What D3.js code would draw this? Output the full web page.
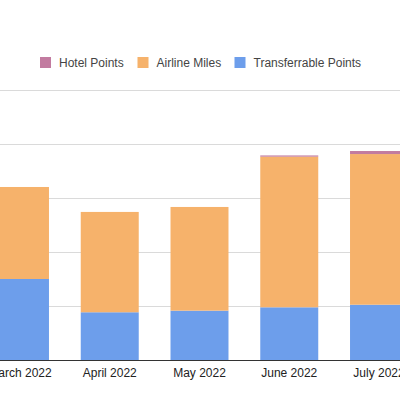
<!DOCTYPE html>
<html lang="en">
<head>
    <meta charset="UTF-8">
    <title>Points balance by month</title>
    <script src="https://d3js.org/d3.v7.min.js"></script>
    <style>
        body { margin: 0; padding: 0; background: #fff; }
        svg { display: block; font-family: Arial, "Liberation Sans", sans-serif; }
        .grid line { stroke: #dadada; stroke-width: 1px; }
        .base { stroke: #333; stroke-width: 1px; }
        .xlabel { font-size: 12px; fill: #222; }
        .legend text { font-size: 12px; fill: #444; }
    </style>
</head>
<body>
    <svg id="chart" width="400" height="400"></svg>

    <script>
        // data (y axis labels are cropped off, units are a guess)
        const months = ["March 2022", "April 2022", "May 2022", "June 2022", "July 2022"];
        const transferrable = [75000, 44200, 45700, 48800, 51200];
        const airline = [85200, 92900, 96000, 139500, 139500];
        const hotel = [0, 0, 0, 1100, 2800];
        const gridTicks = [0, 50000, 100000, 150000, 200000, 250000];

        const seriesNames = ["Hotel Points", "Airline Miles", "Transferrable Points"];
        const colors = {
            "Transferrable Points": "#6d9eeb",
            "Airline Miles": "#f6b26b",
            "Hotel Points": "#c27ba0"
        };

        const rows = months.map((m, i) => ({
            month: m,
            "Transferrable Points": transferrable[i],
            "Airline Miles": airline[i],
            "Hotel Points": hotel[i]
        }));

        const svg = d3.select("#chart");

        const x = d3.scaleBand()
            .domain(months)
            .range([-24.9, 423.9])
            .paddingInner(0.354)
            .paddingOuter(0.177);

        const y = d3.scaleLinear()
            .domain([0, 250000])
            .range([360, 90]);

        // gridlines
        svg.append("g").attr("class", "grid")
            .selectAll("line")
            .data(gridTicks.slice(1))
            .enter().append("line")
            .attr("x1", 0).attr("x2", 400)
            .attr("y1", d => Math.round(y(d)) + 0.5)
            .attr("y2", d => Math.round(y(d)) + 0.5);

        // stacked bars, blue at the bottom
        const stack = d3.stack().keys(["Transferrable Points", "Airline Miles", "Hotel Points"]);
        const layers = stack(rows);

        svg.append("g").selectAll("g")
            .data(layers)
            .enter().append("g")
            .attr("fill", d => colors[d.key])
            .selectAll("rect")
            .data(d => d.filter(s => s[1] > s[0]))
            .enter().append("rect")
            .attr("x", d => x(d.data.month))
            .attr("width", x.bandwidth())
            .attr("y", d => y(d[1]))
            .attr("height", d => y(d[0]) - y(d[1]));

        // baseline
        svg.append("line")
            .attr("class", "base")
            .attr("x1", 0).attr("x2", 400)
            .attr("y1", y(0) + 0.5).attr("y2", y(0) + 0.5);

        // x labels
        svg.append("g").selectAll("text")
            .data(months)
            .enter().append("text")
            .attr("class", "xlabel")
            .attr("x", d => x(d) + x.bandwidth() / 2)
            .attr("y", 377)
            .attr("text-anchor", "middle")
            .text(d => d);

        // legend
        const legendX = [40, 137.5, 234.5];
        const legend = svg.append("g").attr("class", "legend")
            .selectAll("g")
            .data(seriesNames)
            .enter().append("g")
            .attr("transform", (d, i) => `translate(${legendX[i]},57)`);

        legend.append("rect")
            .attr("width", 11)
            .attr("height", 11)
            .attr("fill", d => colors[d]);

        legend.append("text")
            .attr("x", 19)
            .attr("y", 10)
            .text(d => d);
    </script>
</body>
</html>
